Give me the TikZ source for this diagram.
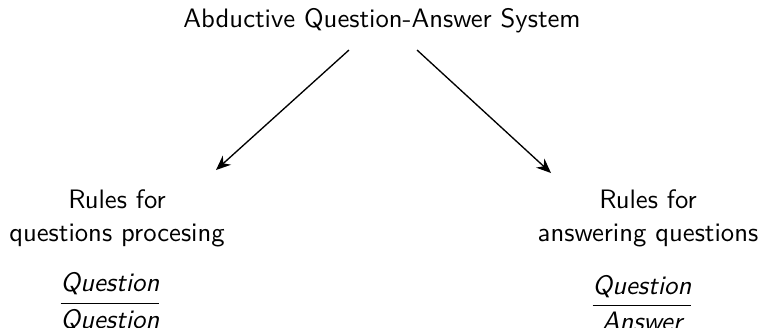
\documentclass[tikz,border=0pt]{standalone}
\usepackage{amsmath}
\usetikzlibrary{arrows.meta}
\renewcommand{\familydefault}{\sfdefault}
\begin{document}
\begin{tikzpicture}[x=0.375pt,y=-0.375pt,
  lbl/.style={font=\sffamily,inner sep=0pt,align=center},
  conn/.style={-{Stealth[length=5.5pt,width=4.6pt]},line width=0.5pt}]
\useasboundingbox (0,0) rectangle (762,327);
\node[lbl,anchor=base] (title) at (382,27) {Abductive Question-Answer System};
\coordinate (s1) at (349,50);
\coordinate (s2) at (417,50);
\node[lbl,anchor=base] (l1) at (117,208) {Rules for};
\node[lbl,anchor=base] (l2) at (117,241) {questions procesing};
\node[lbl,anchor=base] (r1) at (648,208) {Rules for};
\node[lbl,anchor=base] (r2) at (648,241) {answering questions};
\node[lbl,anchor=center] (lf) at (110,302) {$\dfrac{\textit{Question}}{\textit{Question}}$};
\node[lbl,anchor=center] (rf) at (642,303) {$\dfrac{\textit{Question}}{\textit{Answer}}$};
\coordinate (t1) at (216,170);
\coordinate (t2) at (551,173);
\draw[conn] (s1) -- (t1);
\draw[conn] (s2) -- (t2);
\end{tikzpicture}
\end{document}
